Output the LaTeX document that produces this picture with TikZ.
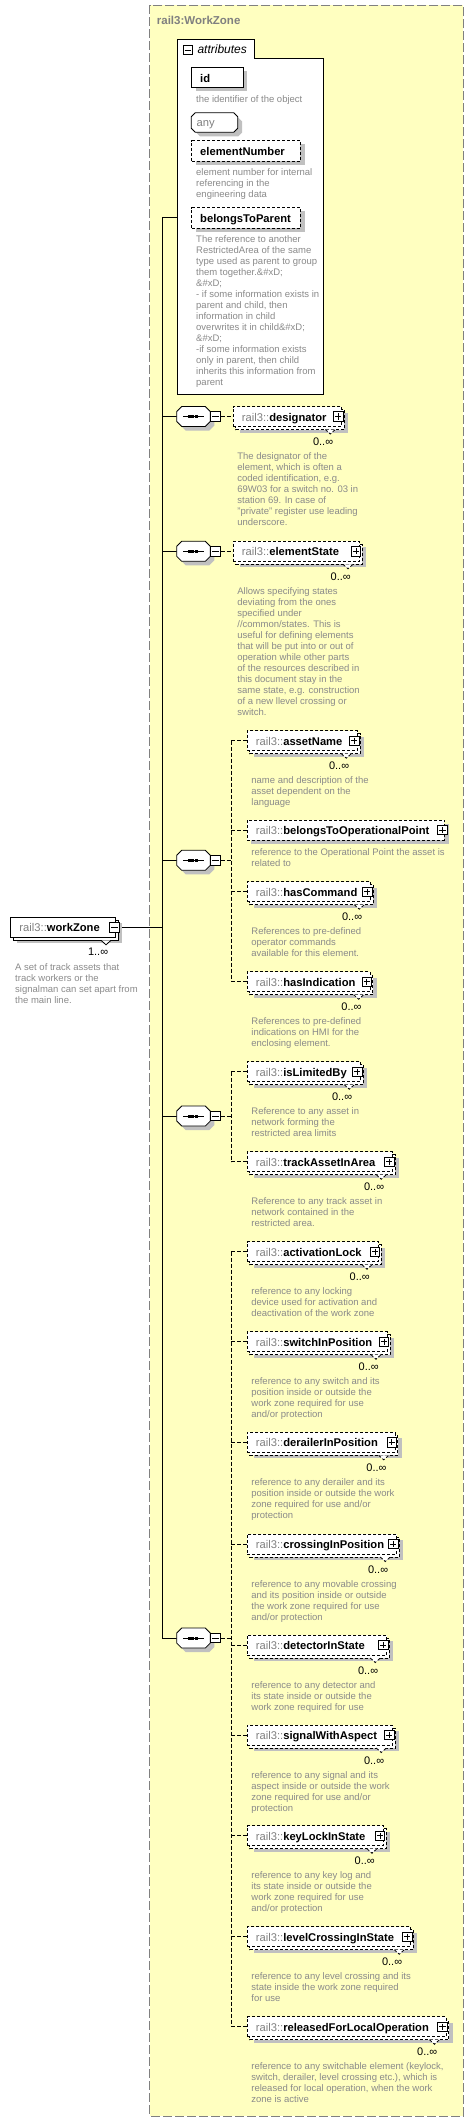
\documentclass[tikz,border=0pt]{standalone}
\usepackage{fontspec}
\setmainfont{Liberation Sans}
\pgfdeclarelayer{back}
\pgfdeclarelayer{wires}
\pgfsetlayers{back,wires,main}
\definecolor{zoneyellow}{HTML}{FFFFC0}
\definecolor{zoneborder}{HTML}{808080}
\definecolor{shadowgray}{HTML}{C0C0C0}
\definecolor{prefgray}{HTML}{808080}
\definecolor{descgray}{HTML}{8A8A8A}
\tikzset{
  ebox/.style={draw=black, fill=white, line width=0.8pt, minimum height=20pt, inner sep=0pt, anchor=west},
  opt/.style={dash pattern=on 3pt off 2pt},
  lbl/.style={anchor=base west, inner sep=0pt, font=\fontsize{11.2}{13}\selectfont},
  desc/.style={anchor=north west, inner sep=0pt, align=left, text=descgray, font=\fontsize{9.5}{11}\selectfont},
  mult/.style={anchor=base east, inner sep=0pt, font=\fontsize{11}{13}\selectfont},
  conn/.style={line width=1pt, draw=black},
  dconn/.style={line width=1pt, draw=black, dash pattern=on 4pt off 2pt},
  icon/.style={draw=black, fill=white, line width=0.8pt, minimum size=9.5pt, inner sep=0pt},
  shd/.style={fill=shadowgray},
}
\newcommand\PlusIcon[3]{%
  \node[icon] (#1) at ({#2},{#3}) {};
  \draw[line width=0.8pt] ([xshift=2pt]#1.west) -- ([xshift=-2pt]#1.east);
  \draw[line width=0.8pt] ([yshift=-2pt]#1.north) -- ([yshift=2pt]#1.south);
}
\newcommand\MinusIcon[3]{%
  \node[icon] (#1) at ({#2},{#3}) {};
  \draw[line width=0.8pt] ([xshift=2pt]#1.west) -- ([xshift=-2pt]#1.east);
}
\newcommand\ElemMulti[6]{%
  \fill[shd] ({#2+7},{#3-4}) rectangle ({#4+7},{#3+16});
  \draw[opt, fill=white, line width=0.8pt] ({#2+3},{#3-7}) rectangle ({#4+3},{#3+13});
  \draw[opt, fill=white, line width=0.8pt] ({#4-16},{#3+13}) -- ({#4-11},{#3+17.5}) -- ({#4-6},{#3+13});
  \node[ebox, opt, minimum width={#4-#2}] (#1) at (#2,#3) {};
  \node[lbl] (#1-l) at ({#2+9},{#3+4.5}) {\textcolor{prefgray}{rail3::}\textbf{#5}};
  \PlusIcon{#1-i}{#4-3}{#3}
  \node[mult] (#1-m) at ({#4-8},{#3+29}) {0..∞};
  \node[desc] (#1-d) at ({#2+4.5},{#3+35.5}) {\rule{0pt}{7.5pt}#6};
}
\newcommand\ElemSingle[6]{%
  \fill[shd] ({#2+4},{#3-6}) rectangle ({#4+5},{#3+14});
  \node[ebox, opt, minimum width={#4-#2}] (#1) at (#2,#3) {};
  \node[lbl] (#1-l) at ({#2+9},{#3+4.5}) {\textcolor{prefgray}{rail3::}\textbf{#5}};
  \PlusIcon{#1-i}{#4-1.5}{#3}
  \node[desc] (#1-d) at ({#2+4.5},{#3+17.5}) {\rule{0pt}{7.5pt}#6};
}
\newcommand\SeqNode[2]{%
  \fill[shd] (185.7,{#2-6}) -- (209.3,{#2-6}) -- (214.3,{#2-1}) -- (214.3,{#2+9}) -- (209.3,{#2+14}) -- (185.7,{#2+14}) -- (180.7,{#2+9}) -- (180.7,{#2-1}) -- cycle;
  \draw[fill=white, line width=0.8pt] (181.7,{#2-10}) -- (205.3,{#2-10}) -- (210.3,{#2-5}) -- (210.3,{#2+5}) -- (205.3,{#2+10}) -- (181.7,{#2+10}) -- (176.7,{#2+5}) -- (176.7,{#2-5}) -- cycle;
  \node[inner sep=0pt, minimum width=33.6pt, minimum height=20pt] (#1) at (193.5,{#2}) {};
  \draw[line width=1pt] (183,{#2}) -- (204,{#2});
  \fill (187.5,{#2-1.5}) rectangle (190.5,{#2+1.5});
  \fill (191.2,{#2-1.5}) rectangle (194.2,{#2+1.5});
  \fill (195.2,{#2-1.5}) rectangle (198.2,{#2+1.5});
  \MinusIcon{#1-m}{215.4}{#2}
}
\newcommand\AttrBox[7]{%
  \fill[shd] ({#2+4.5},{#3+4}) rectangle ({#4+4.5},{#5+4});
  \node[draw=black, fill=white, line width=0.8pt, inner sep=0pt, minimum width={#4-#2}, minimum height={#5-#3}, anchor=north west, #7] (#1) at (#2,#3) {};
  \node[lbl, font=\fontsize{11.2}{13}\selectfont\bfseries] (#1-l) at ({#2+8.7},{(#3+#5)/2+5}) {#6};
}
\begin{document}
\begin{tikzpicture}[x=1pt,y=-1pt]
\useasboundingbox (0,0) rectangle (474,2122);
\begin{pgfonlayer}{back}
\draw[fill=zoneyellow, draw=zoneborder, line width=1pt, dash pattern=on 9pt off 3pt] (149.7,5.3) rectangle (463.3,2116);
\end{pgfonlayer}
\node[anchor=base west, inner sep=0pt, text=prefgray, font=\fontsize{11.5}{14}\selectfont\bfseries] (title) at (156.7,24.2) {rail3:WorkZone};
% attributes group
\draw[fill=white, line width=1pt] (177.3,58.3) -- (177.3,39.3) -- (254.3,39.3) -- (254.3,58.3) -- (323.3,58.3) -- (323.3,394) -- (177.3,394) -- cycle;
\coordinate (attr-w) at (177.3,217.3);
\MinusIcon{attr-i}{187.7}{50}
\node[anchor=base west, inner sep=0pt, font=\fontsize{12}{14}\selectfont\itshape] (attr-t) at (197.3,54) {attributes};
\AttrBox{id}{191.3}{67.3}{242.7}{87.3}{id}{}
\node[desc] (id-d) at (196,94.8) {\rule{0pt}{7.5pt}the identifier of the object};
\fill[shd] (196,117) -- (237.7,117) -- (242.2,121.5) -- (242.2,132.5) -- (238.2,136.5) -- (200,136.5) -- (196,132.5) -- cycle;
\draw[fill=white, line width=0.8pt] (195.3,112.7) -- (233.7,112.7) -- (237.7,116.7) -- (237.7,128.3) -- (233.7,132.3) -- (195.3,132.3) -- (191.3,128.3) -- (191.3,116.7) -- cycle;
\node[inner sep=0pt, minimum width=46.4pt, minimum height=19.6pt] (any) at (214.5,122.5) {};
\node[lbl, text=prefgray] (any-l) at (196.5,126.7) {any};
\AttrBox{elementNumber}{191.3}{140.3}{300}{160.7}{elementNumber}{opt}
\node[desc] (elementNumber-d) at (196,168.2) {\rule{0pt}{7.5pt}element number for internal\\referencing in the\\engineering data};
\AttrBox{belongsToParent}{191.3}{207.3}{300}{227.7}{belongsToParent}{opt}
\node[desc] (belongsToParent-d) at (196,235.2) {\rule{0pt}{7.5pt}The reference to another\\RestrictedArea of the same\\type used as parent to group\\them together.\&\#xD;\\\&\#xD;\\- if some information exists in\\parent and child, then\\information in child\\overwrites it in child\&\#xD;\\\&\#xD;\\-if some information exists\\only in parent, then child\\inherits this information from\\parent};
% workZone element
\fill[shd] (17,923.3) rectangle (122,943.3);
\draw[fill=white, line width=0.8pt] (13,920.3) rectangle (118,940.3);
\draw[fill=white, line width=0.8pt] (101,940.3) -- (106,944.8) -- (111,940.3);
\node[ebox, minimum width=105pt] (wz) at (10,927.3) {};
\node[lbl] (wz-l) at (19.3,931.8) {\textcolor{prefgray}{rail3::}\textbf{workZone}};
\MinusIcon{wz-i}{114.5}{927.3}
\node[mult] (wz-m) at (108.3,955.7) {1..∞};
\node[desc] (wz-d) at (15,962.8) {\rule{0pt}{7.5pt}A set of track assets that\\track workers or the\\signalman can set apart from\\the main line.};
% sequences
\SeqNode{seq1}{416.5}
\SeqNode{seq2}{551.3}
\SeqNode{seq3}{860.3}
\SeqNode{seq4}{1116}
\SeqNode{seq5}{1638}
% elements
\ElemMulti{designator}{232.7}{416.5}{341.3}{designator}{The designator of the\\element, which is often a\\coded identification, e.g.\\69W03 for a switch no. 03 in\\station 69. In case of\\"private" register use leading\\underscore.}
\ElemMulti{elementState}{232.7}{551.3}{359}{elementState}{Allows specifying states\\deviating from the ones\\specified under\\//common/states. This is\\useful for defining elements\\that will be put into or out of\\operation while other parts\\of the resources described in\\this document stay in the\\same state, e.g. construction\\of a new llevel crossing or\\switch.}
\ElemMulti{assetName}{246.7}{740.7}{357.3}{assetName}{name and description of the\\asset dependent on the\\language}
\ElemSingle{belongsToOperationalPoint}{246.7}{830}{444}{belongsToOperationalPoint}{reference to the Operational Point the asset is\\related to}
\ElemMulti{hasCommand}{246.7}{891.7}{370.3}{hasCommand}{References to pre-defined\\operator commands\\available for this element.}
\ElemMulti{hasIndication}{246.7}{981.7}{369.7}{hasIndication}{References to pre-defined\\indications on HMI for the\\enclosing element.}
\ElemMulti{isLimitedBy}{246.7}{1071.7}{360.3}{isLimitedBy}{Reference to any asset in\\network forming the\\restricted area limits}
\ElemMulti{trackAssetInArea}{246.7}{1161.7}{392.3}{trackAssetInArea}{Reference to any track asset in\\network contained in the\\restricted area.}
\ElemMulti{activationLock}{246.7}{1251.7}{378}{activationLock}{reference to any locking\\device used for activation and\\deactivation of the work zone}
\ElemMulti{switchInPosition}{246.7}{1341.7}{387}{switchInPosition}{reference to any switch and its\\position inside or outside the\\work zone required for use\\and/or protection}
\ElemMulti{derailerInPosition}{246.7}{1442.3}{394.7}{derailerInPosition}{reference to any derailer and its\\position inside or outside the work\\zone required for use and/or\\protection}
\ElemMulti{crossingInPosition}{246.7}{1544}{396.3}{crossingInPosition}{reference to any movable crossing\\and its position inside or outside\\the work zone required for use\\and/or protection}
\ElemMulti{detectorInState}{246.7}{1645}{386.3}{detectorInState}{reference to any detector and\\its state inside or outside the\\work zone required for use}
\ElemMulti{signalWithAspect}{246.7}{1735}{392.3}{signalWithAspect}{reference to any signal and its\\aspect inside or outside the work\\zone required for use and/or\\protection}
\ElemMulti{keyLockInState}{246.7}{1835.7}{383}{keyLockInState}{reference to any key log and\\its state inside or outside the\\work zone required for use\\and/or protection}
\ElemMulti{levelCrossingInState}{246.7}{1936.7}{410.3}{levelCrossingInState}{reference to any level crossing and its\\state inside the work zone required\\for use}
\ElemMulti{releasedForLocalOperation}{246.7}{2026.7}{445.5}{releasedForLocalOperation}{reference to any switchable element (keylock,\\switch, derailer, level crossing etc.), which is\\released for local operation, when the work\\zone is active}
% connectors
\begin{pgfonlayer}{wires}
\coordinate (trunk) at (162,217.3);
\draw[conn] (attr-w) -- (trunk) -- (trunk |- seq5.west) -- (seq5.west);
\foreach \s in {seq1,seq2,seq3,seq4} \draw[conn] (\s.west) -- (\s.west -| trunk);
\draw[conn] (wz-i.east) -- (wz-i.east -| trunk);
\draw[dconn] (seq1-m.east) -- (designator.west);
\draw[dconn] (seq2-m.east) -- (elementState.west);
\coordinate (v3) at (231.3,860.3);
\draw[dconn] (seq3-m.east) -- (v3);
\draw[dconn] (assetName.west -| v3) -- (hasIndication.west -| v3);
\foreach \c in {assetName,belongsToOperationalPoint,hasCommand,hasIndication} \draw[dconn] (\c.west) -- (\c.west -| v3);
\coordinate (v4) at (231.3,1116);
\draw[dconn] (seq4-m.east) -- (v4);
\draw[dconn] (isLimitedBy.west -| v4) -- (trackAssetInArea.west -| v4);
\foreach \c in {isLimitedBy,trackAssetInArea} \draw[dconn] (\c.west) -- (\c.west -| v4);
\coordinate (v5) at (231.3,1638);
\draw[dconn] (seq5-m.east) -- (v5);
\draw[dconn] (activationLock.west -| v5) -- (releasedForLocalOperation.west -| v5);
\foreach \c in {activationLock,switchInPosition,derailerInPosition,crossingInPosition,detectorInState,signalWithAspect,keyLockInState,levelCrossingInState,releasedForLocalOperation} \draw[dconn] (\c.west) -- (\c.west -| v5);
\end{pgfonlayer}
\end{tikzpicture}
\end{document}
